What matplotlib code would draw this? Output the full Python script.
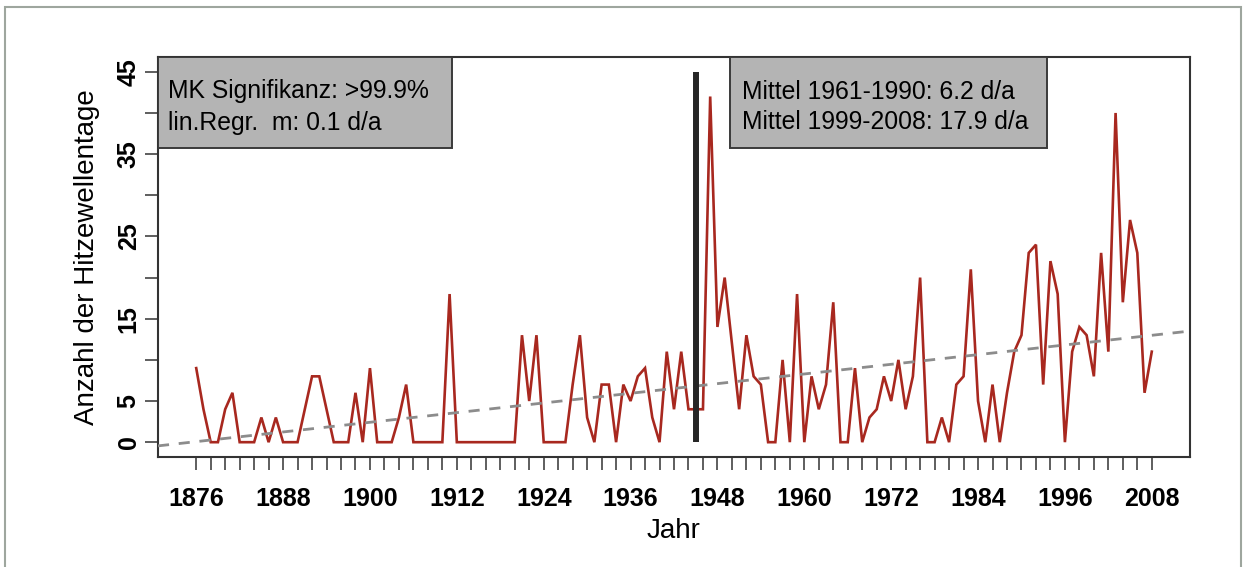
import matplotlib
matplotlib.use("Agg")
import matplotlib.pyplot as plt
from matplotlib.patches import Rectangle
import numpy as np

plt.rcParams["font.family"] = ["Liberation Sans", "DejaVu Sans"]

# --- Daten: Hitzewellentage pro Jahr ---
jahre = np.arange(1876, 2009)
hitzetage = [
    9, 4, 0, 0, 4, 6, 0, 0, 0, 3,          # 1876-1885
    0, 3, 0, 0, 0, 4, 8, 8, 4, 0,          # 1886-1895
    0, 0, 6, 0, 9, 0, 0, 0, 3, 7,          # 1896-1905
    0, 0, 0, 0, 0, 18, 0, 0, 0, 0,         # 1906-1915
    0, 0, 0, 0, 0, 13, 5, 13, 0, 0,        # 1916-1925
    0, 0, 7, 13, 3, 0, 7, 7, 0, 7,         # 1926-1935
    5, 8, 9, 3, 0, 11, 4, 11, 4, 4,        # 1936-1945
    4, 42, 14, 20, 12, 4, 13, 8, 7, 0,     # 1946-1955
    0, 10, 0, 18, 0, 8, 4, 7, 17, 0,       # 1956-1965
    0, 9, 0, 3, 4, 8, 5, 10, 4, 8,         # 1966-1975
    20, 0, 0, 3, 0, 7, 8, 21, 5, 0,        # 1976-1985
    7, 0, 6, 11, 13, 23, 24, 7, 22, 18,    # 1986-1995
    0, 11, 14, 13, 8, 23, 11, 40, 17, 27,  # 1996-2005
    23, 6, 11,                             # 2006-2008
]
bruch_jahr = 1945          # schwarze Linie
bruch_hoehe = 45
yticks = [0, 5, 10, 15, 20, 25, 30, 35, 40, 45]
ytick_labels = ["0", "5", "", "15", "", "25", "", "35", "", "45"]
xticks_major = np.arange(1876, 2009, 12)
xticks_minor = np.arange(1876, 2009, 2)

box1_text = ["MK Signifikanz: >99.9%", "lin.Regr.  m: 0.1 d/a"]
box2_text = ["Mittel 1961-1990: 6.2 d/a", "Mittel 1999-2008: 17.9 d/a"]

W, H = 1247, 567
fig = plt.figure(figsize=(W / 100, H / 100), dpi=100)

# Rahmen um das ganze Bild
fig.patches.append(Rectangle((5 / W, -0.01), (1241 - 5) / W, 1.01 - 7 / H,
                             transform=fig.transFigure, fill=False,
                             edgecolor="#9ea69e", linewidth=1.5))

ax = fig.add_axes([158 / W, 1 - 457 / H, (1190 - 158) / W, (457 - 57) / H])

# R-typische 4% Erweiterung
xr = jahre[-1] - jahre[0]
xlim = (jahre[0] - 0.04 * xr, jahre[-1] + 0.04 * xr)
ax.set_xlim(xlim)
ax.set_ylim(-0.04 * 45, 45 * 1.04)

ax.plot(jahre, hitzetage, color="#a8281f", linewidth=1.9, zorder=3,
        solid_joinstyle="miter")

# lineare Regression
m, b = np.polyfit(jahre, hitzetage, 1)
xx = np.array(xlim)
ax.plot(xx, m * xx + b, color="#8c8c8c", linewidth=2.0, linestyle=(0, (4, 3.5)),
        zorder=4)

ax.plot([bruch_jahr, bruch_jahr], [0, bruch_hoehe], color="#262626",
        linewidth=4.3, solid_capstyle="butt", zorder=5)

# graue Legendenkästen
for x0, x1 in [(0.0, 0.285), (0.554, 0.861)]:
    ax.add_patch(Rectangle((x0, 0.7725), x1 - x0, 0.2275, transform=ax.transAxes,
                           facecolor="#b4b4b4", edgecolor="#3a3a3a",
                           linewidth=1.4, zorder=6))
for i, t in enumerate(box1_text):
    ax.text(0.0097, [0.915, 0.836][i], t, transform=ax.transAxes,
            fontsize=17.8, va="center", ha="left", zorder=7)
for i, t in enumerate(box2_text):
    ax.text(0.566, [0.913, 0.837][i], t, transform=ax.transAxes,
            fontsize=17.8, va="center", ha="left", zorder=7)

# Achsen
ax.set_yticks(yticks)
ax.set_yticklabels(ytick_labels, rotation=90, va="center", fontweight="bold",
                   fontsize=18)
ax.set_xticks(xticks_minor, minor=True)
ax.set_xticks(xticks_major)
ax.set_xticklabels([str(j) for j in xticks_major], fontweight="bold", fontsize=18)
ax.tick_params(axis="both", which="both", direction="out", length=9.5,
               width=1.1, color="#333333")
ax.tick_params(axis="y", pad=3)
ax.tick_params(axis="x", pad=12)

ax.set_xlabel("Jahr", fontsize=20, labelpad=5)
ax.set_ylabel("Anzahl der Hitzewellentage", fontsize=20, labelpad=12)

for s in ax.spines.values():
    s.set_linewidth(1.5)
    s.set_color("#333333")

fig.savefig("out.png", dpi=100)
